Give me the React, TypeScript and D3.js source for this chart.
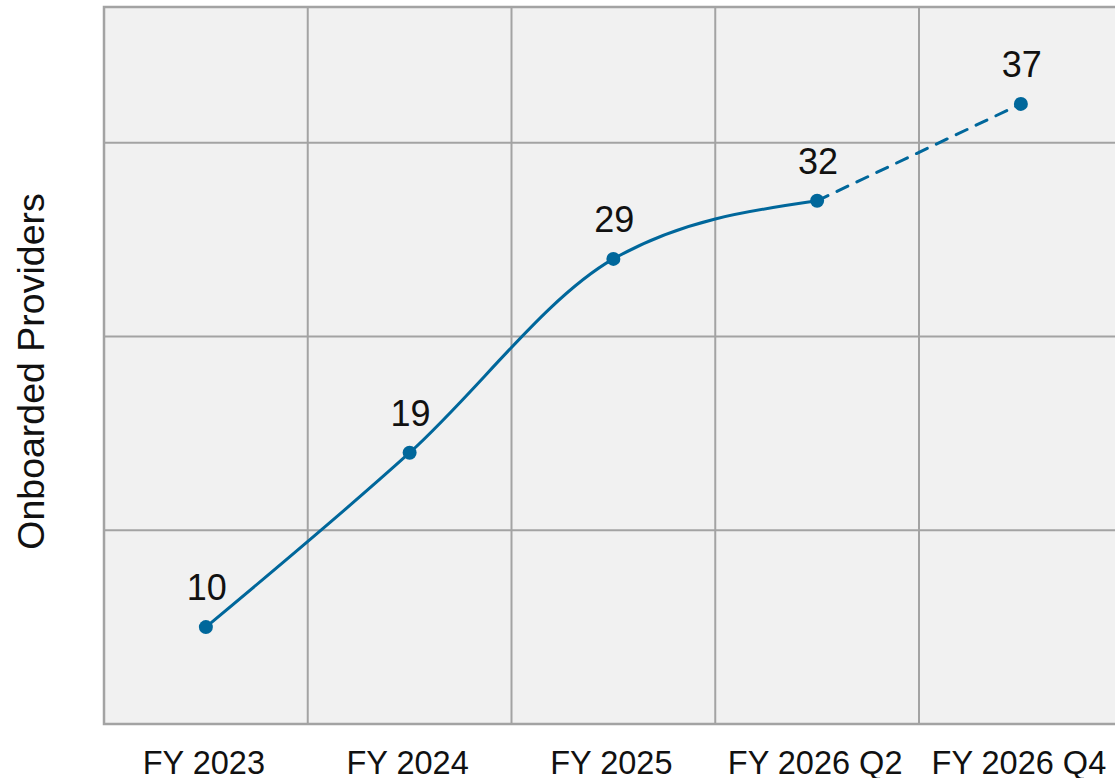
import React from "react";
import * as d3 from "d3";

const categories = ["FY 2023", "FY 2024", "FY 2025", "FY 2026 Q2", "FY 2026 Q4"];
const actualValues = [10, 19, 29, 32];
const projectedValues = [32, 37];
const yTicks = [15, 25, 35];

const width = 1115;
const height = 778;
const margin = { top: 7, left: 104, bottom: 54 };
const plotWidth = 1018.75;
const lineColor = "#00679b";
const gridColor = "#a3a3a3";
const font = "'Liberation Sans', Arial, sans-serif";

const App: React.FC = () => {
  const svgRef = React.useRef<SVGSVGElement>(null);

  React.useEffect(() => {
    if (!svgRef.current) return;
    const svg = d3.select(svgRef.current);
    svg.selectAll("*").remove();
    const chartHeight = height - margin.top - margin.bottom;

    const x = d3.scaleBand<string>().domain(categories).range([0, plotWidth]);
    const y = d3.scaleLinear().domain([5, 42]).range([chartHeight, 0]);
    const cx = (c: string) => (x(c) ?? 0) + x.bandwidth() / 2;

    const g = svg
      .append("g")
      .attr("transform", `translate(${margin.left},${margin.top})`);

    g.append("rect")
      .attr("width", plotWidth)
      .attr("height", chartHeight)
      .attr("fill", "#f1f1f1");

    // horizontal grid
    g.selectAll(".hgrid")
      .data(yTicks)
      .enter()
      .append("line")
      .attr("x1", 0)
      .attr("x2", plotWidth)
      .attr("y1", d => y(d))
      .attr("y2", d => y(d))
      .attr("stroke", gridColor)
      .attr("stroke-width", 2);

    // vertical grid at band boundaries
    g.selectAll(".vgrid")
      .data(categories.slice(1))
      .enter()
      .append("line")
      .attr("x1", d => x(d) ?? 0)
      .attr("x2", d => x(d) ?? 0)
      .attr("y1", 0)
      .attr("y2", chartHeight)
      .attr("stroke", gridColor)
      .attr("stroke-width", 2);

    g.append("rect")
      .attr("width", plotWidth)
      .attr("height", chartHeight)
      .attr("fill", "none")
      .attr("stroke", gridColor)
      .attr("stroke-width", 2.5);

    const line = d3
      .line<number>()
      .x((_, i) => cx(categories[i]))
      .y(d => y(d))
      .curve(d3.curveMonotoneX);

    g.append("path")
      .datum(actualValues)
      .attr("fill", "none")
      .attr("stroke", lineColor)
      .attr("stroke-width", 3)
      .attr("d", line);

    const projLine = d3
      .line<number>()
      .x((_, i) => cx(categories[i + 3]))
      .y(d => y(d));

    g.append("path")
      .datum(projectedValues)
      .attr("fill", "none")
      .attr("stroke", lineColor)
      .attr("stroke-width", 3)
      .attr("stroke-dasharray", "12,10")
      .attr("stroke-linecap", "round")
      .attr("d", projLine);

    const allValues = [...actualValues, projectedValues[1]];
    g.selectAll(".pt")
      .data(allValues)
      .enter()
      .append("circle")
      .attr("cx", (_, i) => cx(categories[i]))
      .attr("cy", d => y(d))
      .attr("r", 7)
      .attr("fill", lineColor);

    g.selectAll(".lbl")
      .data(allValues)
      .enter()
      .append("text")
      .attr("x", (_, i) => cx(categories[i]) + 1)
      .attr("y", d => y(d) - 27)
      .attr("text-anchor", "middle")
      .style("font-family", font)
      .style("font-size", "36px")
      .style("fill", "#111")
      .text(d => String(d));

    // x tick labels
    g.selectAll(".xt")
      .data(categories)
      .enter()
      .append("text")
      .attr("x", d => cx(d) - 2)
      .attr("y", chartHeight + 50)
      .attr("text-anchor", "middle")
      .style("font-family", font)
      .style("font-size", "32.5px")
      .style("fill", "#111")
      .text(d => d);

    svg
      .append("text")
      .attr("transform", `translate(44,${margin.top + chartHeight / 2 + 6}) rotate(-90)`)
      .attr("text-anchor", "middle")
      .style("font-family", font)
      .style("font-size", "37.5px")
      .style("fill", "#111")
      .text("Onboarded Providers");
  }, []);

  return (
    <svg
      ref={svgRef}
      width={width}
      height={height}
      style={{ position: "absolute", left: 0, top: 0, background: "#fff" }}
    />
  );
};

export default App;
